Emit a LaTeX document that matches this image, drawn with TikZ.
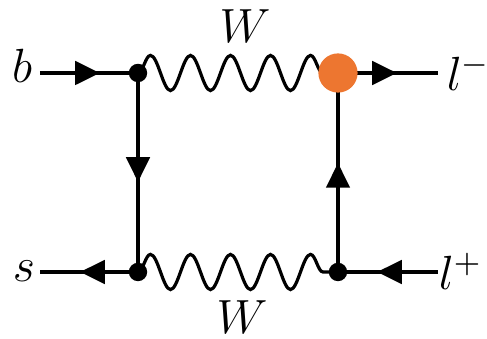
\documentclass[tikz,border=0pt]{standalone}
\usetikzlibrary{arrows.meta,decorations.markings,decorations.pathmorphing}
\definecolor{blobcol}{RGB}{237,118,48}
\begin{document}
\begin{tikzpicture}[x=0.25pt,y=-0.25pt,
  fermion/.style={line width=1pt, postaction={decorate,
    decoration={markings, mark=at position #1 with {\arrow{Triangle[length=6.2pt,width=5.8pt]}}}}},
  boson/.style={line width=0.8pt, decorate,
    decoration={snake, amplitude=4.4pt, segment length=10pt}},
  vdot/.style={circle, fill=black, inner sep=0pt, minimum size=4.6pt},
  blob/.style={circle, fill=blobcol, inner sep=0pt, minimum size=9.8pt},
  lbl/.style={font=\large, inner sep=0pt, anchor=base}
]
\useasboundingbox (0,0) rectangle (487,339);
% coordinates
\coordinate (v1) at (138,73);
\coordinate (v2) at (338,73);
\coordinate (v3) at (138,272);
\coordinate (v4) at (338,272);
\coordinate (bin) at (40,73);
\coordinate (sout) at (40,272);
\coordinate (lmout) at (438,73);
\coordinate (lpin) at (438,272);
% bosons
\draw[boson] (v1) -- (v2);
\draw[boson] (v3) -- (v4);
% fermions
\draw[fermion=0.612] (bin) -- (v1);
\draw[fermion=0.592] (v3) -- (sout);
\draw[fermion=0.548] (v1) -- (v3);
\draw[fermion=0.548] (v4) -- (v2);
\draw[fermion=0.59] (v2) -- (lmout);
\draw[fermion=0.61] (lpin) -- (v4);
% vertices
\node[vdot] (d1) at (v1) {};
\node[vdot] (d3) at (v3) {};
\node[vdot] (d4) at (v4) {};
\node[blob] (d2) at (v2) {};
% labels
\node[lbl] (b) at (22,83) {$b$};
\node[lbl] (s) at (24,282) {$s$};
\node[lbl, anchor=base west] (lm) at (446,91) {$l^-$};
\node[lbl, anchor=base west] (lp) at (438,290) {$l^+$};
\node[lbl] (wt) at (245,43) {$W$};
\node[lbl] (wb) at (242,334) {$W$};
\end{tikzpicture}
\end{document}
